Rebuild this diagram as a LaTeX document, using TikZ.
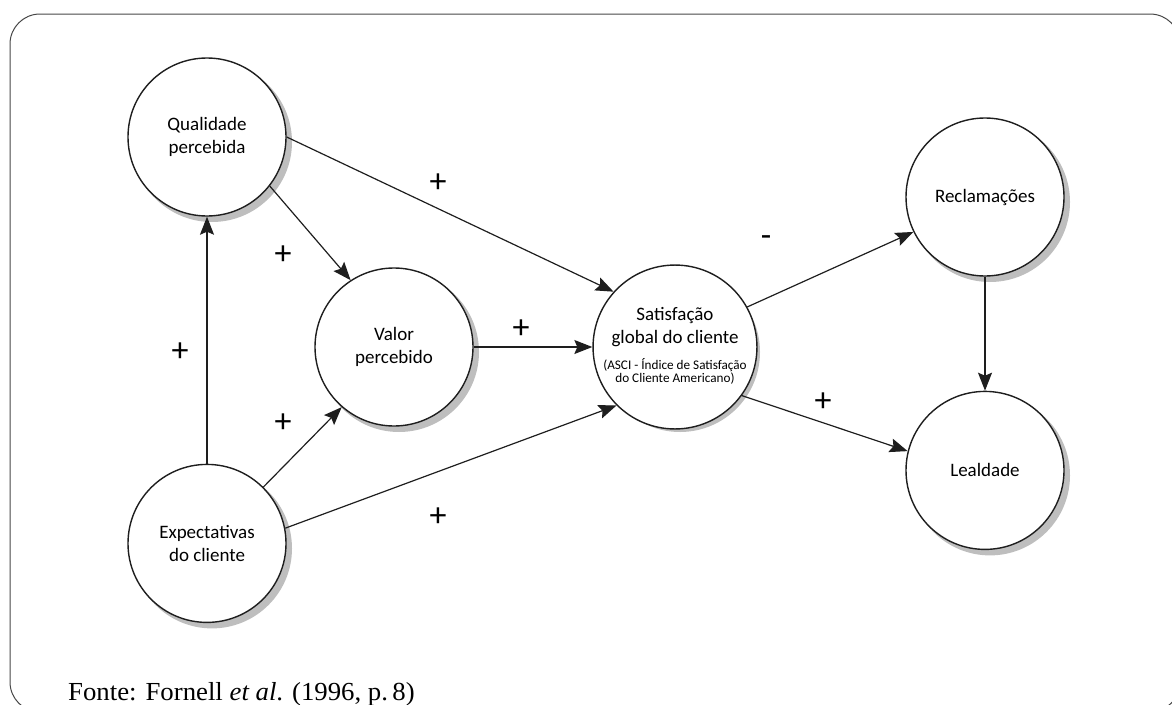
\documentclass[tikz,border=0pt]{standalone}
\usepackage{fontspec}
\setmainfont{Carlito}
\newfontfamily\fontefont[FakeStretch=1.03]{Liberation Serif}
\usepackage{tikz}
\usetikzlibrary{arrows.meta, positioning, backgrounds}
\definecolor{mydark}{RGB}{30,30,30}
\definecolor{myframe}{RGB}{70,70,70}
\definecolor{myshadow}{RGB}{190,190,190}
\tikzset{
  construto/.style={circle, draw=mydark, fill=white, line width=1.4pt,
    minimum size=158pt, inner sep=0pt, align=center,
    font=\fontsize{19}{23}\selectfont},
  sombra/.style={fill=myshadow},
  seta/.style={-{Stealth[length=18pt, width=14pt, inset=3pt]}, line width=1.2pt, color=mydark},
  sinal/.style={font=\fontsize{34}{34}\selectfont, inner sep=0pt},
  moldura/.style={draw=myframe, line width=1pt, rounded corners=30pt}
}

\begin{document}
\begin{tikzpicture}[x=1pt, y=-1pt]
  \useasboundingbox (0,0) rectangle (1172,704);

  % Frame
  \begin{scope}
    \clip (0,0) rectangle (1172,704);
    \draw[moldura] (10,14) rectangle (1180,712);
  \end{scope}

  % Constructs
  \node[construto] (Q) at (207,137) {Qualidade\\percebida};
  \node[construto, below=247pt of Q] (E) {Expectativas\\do cliente};
  \node[construto] (V) at (394,347) {Valor\\percebido};
  \node[construto] (S) at (675,347) {Satisfação\\global do cliente\\[9pt]
    {\fontsize{13.2}{13.5}\selectfont\begin{tabular}{@{}c@{}}(ASCI - Índice de Satisfação\\do Cliente Americano)\end{tabular}}};
  \node[construto] (R) at (985,197) {Reclamações};
  \node[construto, below=114pt of R] (L) {Lealdade};

  % Shadows
  \begin{scope}[on background layer]
    \foreach \c in {Q,E,V,S,R,L}
      \fill[sombra] ([shift={(5,5)}]\c.center) circle (80pt);
  \end{scope}

  % Paths
  \draw[seta] (Q.east) -- (S.138);
  \draw[seta] (Q.-38) -- (V.123);
  \draw[seta] (V.east) -- (S.west);
  \draw[seta] (E.north) -- (Q.south);
  \draw[seta] (E.45) -- (V.-131);
  \draw[seta] (E.11) -- (S.-135);
  \draw[seta] (S.29) -- (R.206);
  \draw[seta] (S.-36) -- (L.166);
  \draw[seta] (R.south) -- (L.north);

  % Signs
  \node[sinal] (sQS) at (438,183) {+};
  \node[sinal] (sQV) at (283,255) {+};
  \node[sinal] (sEQ) at (180,352) {+};
  \node[sinal] (sVS) at (521,329) {+};
  \node[sinal] (sEV) at (283,423) {+};
  \node[sinal] (sES) at (438,517) {+};
  \node[sinal] (sSR) at (766,241) {-};
  \node[sinal] (sSL) at (823,402) {+};

  % Source
  \node[anchor=base west, inner sep=0pt, font=\fontefont\fontsize{26}{30}\selectfont] (fonte) at (68,700) {Fonte: Fornell \textit{et al}. (1996, p.\,8)};
\end{tikzpicture}
\end{document}
